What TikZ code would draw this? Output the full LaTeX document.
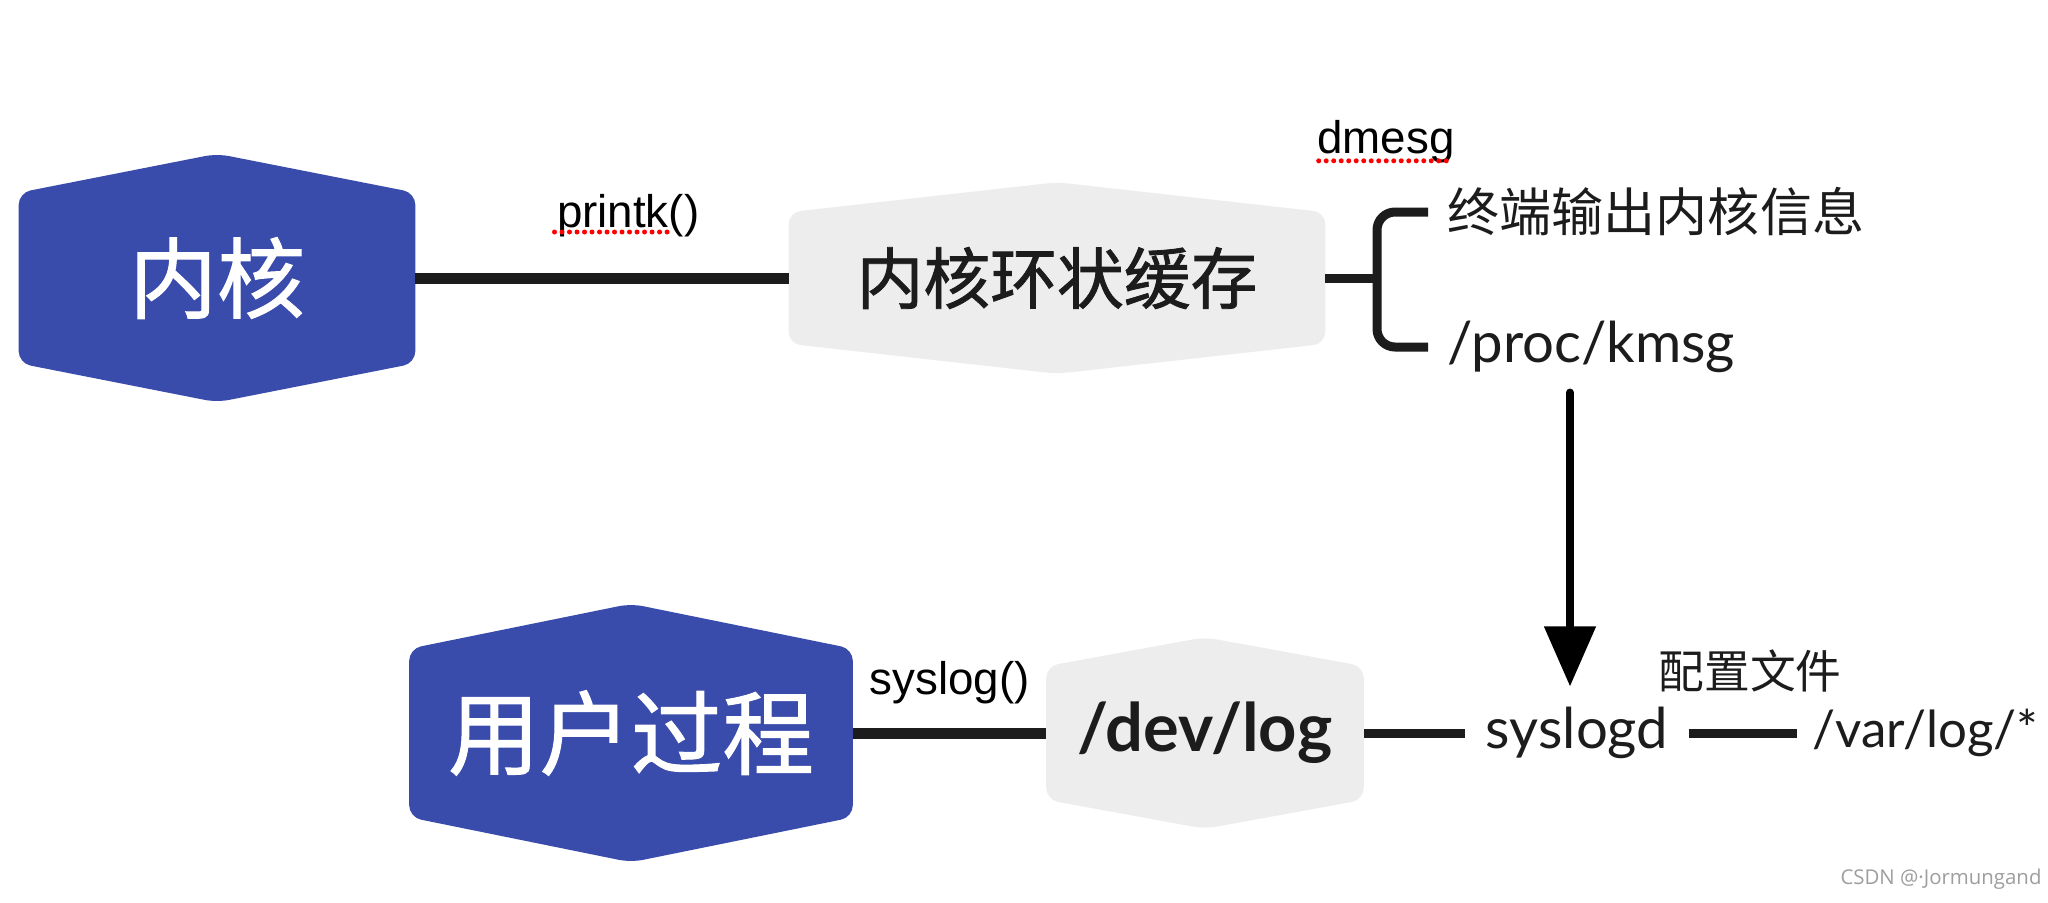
\documentclass[tikz,border=0pt]{standalone}
\usepackage{fontspec}
\usepackage{tikz}
\usetikzlibrary{arrows.meta, backgrounds}

\setmainfont{Liberation Sans}
\newfontfamily\cjk{Noto Sans CJK SC}
\newfontfamily\cjkmid{Noto Sans CJK SC}[FakeBold=1.2]
\newfontfamily\geo{Lato}
\newfontfamily\wmfont{Open Sans}

\definecolor{kblue}{RGB}{57,75,171}
\definecolor{boxgray}{RGB}{237,237,237}
\definecolor{ink}{RGB}{28,28,28}

\begin{document}
\begin{tikzpicture}[x=0.01cm, y=-0.01cm,
    hexnode/.style = {rectangle, inner sep=0pt},
    link/.style = {draw=ink, line width=0.11cm},
    brace/.style = {draw=ink, line width=0.09cm, rounded corners=0.18cm},
    call/.style = {inner sep=0pt, font=\fontsize{13pt}{15pt}\selectfont},
    side/.style = {text=ink, inner sep=0.19cm, font=\geo\fontsize{16pt}{19pt}\selectfont},
    flow/.style = {draw=black, line width=0.08cm, line cap=round, -{Triangle[width=0.5cm, length=0.6cm]}},
    spell/.style = {draw=red, line width=0.05cm, line cap=round, dash pattern=on 0pt off 0.075cm}]
    \useasboundingbox (0,0) rectangle (2048,902);

    \node[hexnode, minimum width=3.95cm, minimum height=1.69cm, text=white, font=\cjkmid\fontsize{25pt}{30pt}\selectfont] (kern) at (217,278) {内核};
    \node[hexnode, minimum width=5.35cm, minimum height=1.30cm, text=ink, font=\cjkmid\fontsize{19pt}{23pt}\selectfont] (ring) at (1057,278) {内核环状缓存};
    \node[hexnode, minimum width=4.42cm, minimum height=1.67cm, text=white, font=\cjkmid\fontsize{26pt}{31pt}\selectfont] (user) at (631,733) {用户过程};
    \node[hexnode, minimum width=3.16cm, minimum height=1.32cm, text=ink, font=\geo\bfseries\fontsize{19pt}{23pt}\selectfont] (devlog) at (1205,733) {/dev/log};

    \begin{scope}[on background layer]
        \fill[white] (0,0) rectangle (2048,902);
        \foreach \n/\r/\c in {kern/0.39cm/kblue, ring/0.30cm/boxgray, user/0.45cm/kblue, devlog/0.29cm/boxgray}
            \fill[\c, rounded corners=0.12cm] (\n.north west) -- ([yshift=\r]\n.north) -- (\n.north east)
                -- (\n.south east) -- ([yshift=-\r]\n.south) -- (\n.south west) -- cycle;
    \end{scope}

    % top row
    \draw[link] (kern) -- node[call, pos=0.57, above=0.36cm] (printk) {printk()} (ring);
    \node[call] (dmesg) at (1386,142) {dmesg};
    \coordinate (fork) at (1377,278);
    \node[side, anchor=west, font=\cjk\fontsize{14.8pt}{18pt}\selectfont] (term) at (1428,212) {终端输出内核信息};
    \node[side, anchor=west] (kmsg) at (1428,347) {/proc/kmsg};
    \draw[brace] (ring) -- (fork);
    \draw[brace] (term.west) -| (fork) |- (kmsg.west);

    % bottom row
    \draw[link] (user) -- node[call, pos=0.5, above=0.24cm] (syslogcall) {syslog()} (devlog);
    \node[side, inner sep=0.2cm] (syslogd) at (1577,733) {syslogd};
    \node[side, inner sep=0.15cm, anchor=west, font=\geo\fontsize{14.5pt}{18pt}\selectfont] (varlog) at (1797,733) {/var/log/*};
    \node[text=ink, inner sep=0pt, font=\cjk\fontsize{13pt}{15pt}\selectfont] (config) at (1750,671) {配置文件};
    \draw[link, line width=0.09cm] (devlog) -- (syslogd);
    \draw[link, line width=0.09cm] (syslogd) -- (varlog);
    \draw[flow, transform canvas={xshift=-0.07cm}] (kmsg.south -| syslogd.north) -- (syslogd.north);

    % spell-check marks
    \draw[spell] ([xshift=0.03cm, yshift=-0.05cm]printk.base west) -- ([xshift=-0.31cm, yshift=-0.05cm]printk.base east);
    \draw[spell] ([xshift=0.02cm, yshift=-0.07cm]dmesg.base west) -- ([xshift=-0.08cm, yshift=-0.07cm]dmesg.base east);

    \node[text=black!38, inner sep=0pt, font=\wmfont\fontsize{5.8pt}{7pt}\selectfont] (wm) at (1941,879) {CSDN @·Jormungand};
\end{tikzpicture}
\end{document}
